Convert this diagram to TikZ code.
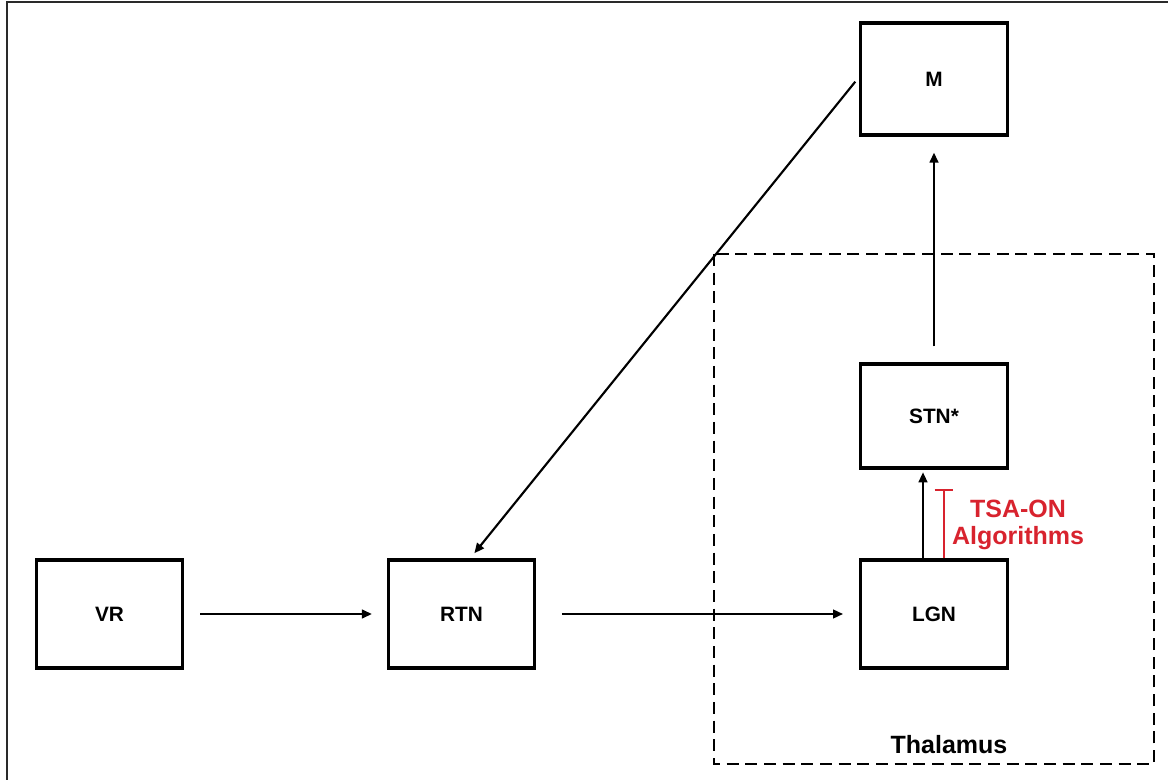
\documentclass[tikz,border=0pt]{standalone}
\usepackage{fontspec}
\setmainfont{Liberation Sans}
\usetikzlibrary{arrows.meta}
\definecolor{inhred}{HTML}{D8232E}
\definecolor{framegray}{HTML}{2A2A2A}

\begin{document}
\begin{tikzpicture}[x=0.75pt, y=-0.75pt, >={Triangle[length=7.5pt, width=6.5pt]},
  box/.style={draw, line width=2.4pt, minimum width=110pt, minimum height=81pt,
    font=\fontsize{15.6}{18}\selectfont\bfseries},
  link/.style={->, line width=1.6pt},
  biglabel/.style={font=\fontsize{18.75}{22}\selectfont\bfseries, align=center}]

  % ---- page and frame ----
  \useasboundingbox (0,0) rectangle (1168,780);
  \draw[framegray, line width=1.8pt] (7,780) -- (7,2) -- (1168,2);

  % ---- thalamus region ----
  \draw[line width=2pt, dash pattern=on 9pt off 5pt] (714,254) rectangle (1154,764);
  \node[biglabel] (thal) at (949,745) {Thalamus};

  % ---- nuclei ----
  \node[box] (vr) at (109.5,614) {VR};
  \node[box] (rtn) at (461.5,614) {RTN};
  \node[box] (lgn) at (934,614) {LGN};
  \node[box, minimum height=78pt] (stn) at (934,416) {STN*};
  \node[box, minimum height=84pt] (m) at (934,79) {M};

  % ---- projections ----
  \draw[link, shorten <=12pt, shorten >=11pt] (vr.east) -- (rtn.west);
  \draw[link, shorten <=19pt, shorten >=12pt] (rtn.east) -- (lgn.west);
  \draw[link, shorten >=2pt] ([xshift=-8.25pt]lgn.north) -- ([xshift=-8.25pt]stn.south);
  \draw[link, shorten <=12pt, shorten >=12pt] (stn.north) -- (m.south);
  \draw[link, shorten <=4.5pt, shorten >=5pt] ([yshift=1.5pt]m.west) -- ([xshift=6.5pt]rtn.north);

  % ---- inhibition of the relay ----
  \coordinate (inhtop) at (944,489);
  \draw[inhred, line width=1.5pt, -{Bar[width=14pt, line width=1.5pt]}]
    ([xshift=7.5pt]lgn.north) -- (inhtop);
  \node[biglabel, text=inhred, inner sep=0pt] (tsa) at (1018,525) {TSA-ON\\[-2pt]Algorithms};

\end{tikzpicture}
\end{document}
